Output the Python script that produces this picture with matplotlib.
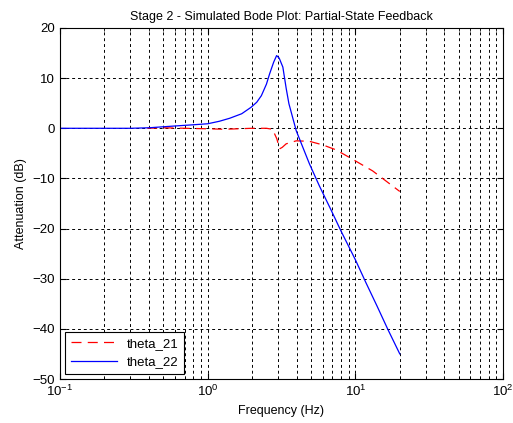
import matplotlib
matplotlib.use("Agg")
import matplotlib.pyplot as plt
from matplotlib.ticker import LogLocator, NullFormatter

# Data
freq_21 = [0.39, 0.5, 0.7, 1.0, 1.3, 1.6, 2.0, 2.5, 2.75, 2.94, 3.07, 3.2, 3.4,
           3.98, 4.89, 6.0, 7.4, 9.1, 13.1, 20]
theta_21 = [0, 0.1, 0, -0.1, -0.2, -0.1, 0, 0, -0.2, -2.1, -4.1, -3.8, -3.1,
            -2.5, -2.6, -3.3, -4.3, -5.8, -8.5, -12.6]

freq_22 = [0.1, 0.2, 0.3, 0.4, 0.5, 0.63, 0.8, 1.0, 1.2, 1.41, 1.7, 1.97, 2.15,
           2.31, 2.5, 2.63, 2.8, 2.93, 3.05, 3.23, 3.4, 3.55, 3.98, 4.89, 5.71,
           6.85, 8.0, 10, 11.8, 14, 16.6, 20]
theta_22 = [0, 0, 0, 0.1, 0.3, 0.5, 0.7, 0.9, 1.4, 2.0, 2.9, 4.2, 5.2,
            6.5, 8.8, 10.9, 13.2, 14.5, 14.0, 12.2, 8.0, 4.9, -0.5, -7.1, -11.5,
            -16.3, -20.5, -26.2, -30.8, -35.4, -40.1, -45]

yticks = [-50, -40, -30, -20, -10, 0, 10, 20]

plt.rcParams['font.family'] = ['Liberation Sans', 'DejaVu Sans']
fig = plt.figure(figsize=(5.13, 4.23), dpi=100)
ax = fig.add_axes([60/513, 1-379/423, 443/513, 351/423])

ax.plot(freq_21, theta_21, color='red', linestyle=(0, (8, 5)), linewidth=0.9, label='theta_21')
ax.plot(freq_22, theta_22, color='blue', linestyle='-', linewidth=0.9, label='theta_22')

ax.set_xscale('log')
ax.set_xlim(0.1, 100)
ax.set_ylim(-50, 20)
ax.set_yticks(yticks)
ax.xaxis.set_major_locator(LogLocator(base=10, numticks=10))
ax.xaxis.set_minor_locator(LogLocator(base=10, subs=range(2, 10), numticks=100))
ax.xaxis.set_minor_formatter(NullFormatter())

gs = dict(color='black', linestyle=(0, (3, 3)), linewidth=0.7)
ax.grid(True, which='major', axis='both', **gs)
ax.grid(True, which='minor', axis='x', **gs)

ax.tick_params(which='both', direction='in', labelsize=9.5, top=True, right=True)
ax.tick_params(which='major', length=4)
ax.tick_params(which='minor', length=2)
for s in ax.spines.values():
    s.set_linewidth(0.8)

ax.set_title('Stage 2 - Simulated Bode Plot: Partial-State Feedback', fontsize=9)
ax.set_xlabel('Frequency (Hz)', fontsize=9)
ax.set_ylabel('Attenuation (dB)', fontsize=9)

leg = ax.legend(loc='lower left', fontsize=9.5, fancybox=False, framealpha=1,
                edgecolor='black', handlelength=3.5, borderaxespad=0.4)
leg.get_frame().set_linewidth(0.8)

fig.savefig('out.png', dpi=100)
